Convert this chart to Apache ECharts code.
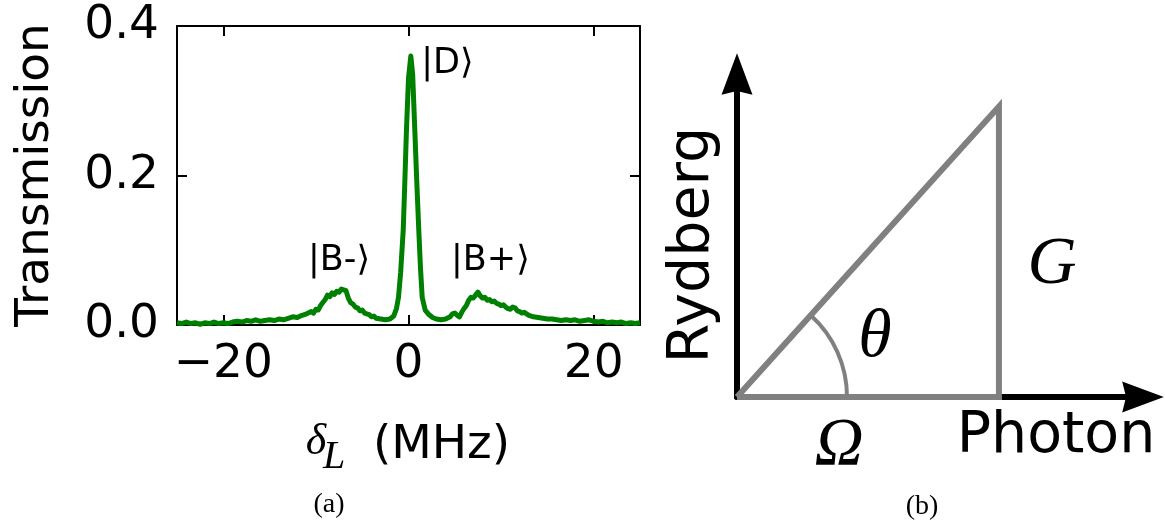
<!DOCTYPE html>
<html><head><meta charset="utf-8">
<script src="https://cdn.jsdelivr.net/npm/echarts@6/dist/echarts.min.js"></script>
<style>html,body{margin:0;padding:0;background:#fff}#c{width:1165px;height:523px}</style>
</head><body><div id="c"></div>
<script>
// ---- Panel (a) data ----
const detuning = [
 -25,-24.5,-24,-23.5,-23,-22.5,-22,-21.5,-21,-20.5,-20,-19.5,-19,-18.5,-18,-17.5,-17,-16.5,-16,-15.5,
 -15,-14.5,-14,-13.5,-13,-12.5,-12,-11.5,-11,-10.5,-10.25,-10,-9.75,-9.5,-9.25,-9,-8.75,-8.5,-8.25,-8,
 -7.75,-7.5,-7.25,-7,-6.75,-6.5,-6.25,-6,-5.75,-5.5,-5.25,-5,-4.75,-4.5,-4.25,-4,-3.75,-3.5,-3,-2.5,
 -2,-1.6,-1.3,-1.08,-0.85,-0.57,-0.4,-0.22,0,0.25,0.45,0.68,0.9,1.11,1.3,1.48,1.8,2.2,2.6,3,
 3.5,4,4.5,4.75,5,5.25,5.5,5.75,6,6.25,6.5,6.75,7,7.25,7.5,7.75,8,8.25,8.5,8.75,
 9,9.25,9.5,9.75,10,10.25,10.5,10.75,11,11.25,11.5,11.75,12,12.25,12.5,13,13.5,14,14.5,15,
 15.5,16,16.5,17,17.5,18,18.5,19,19.5,20,20.5,21,21.5,22,22.5,23,23.5,24,24.5,25
];
const transmission = [
 0.003,0.002,0.004,0.002,0.003,0.001,0.003,0.002,0.004,0.002,0.003,0.002,0.004,0.005,0.004,0.006,0.005,0.007,0.005,0.006,
 0.007,0.006,0.008,0.007,0.009,0.011,0.010,0.013,0.015,0.018,0.016,0.021,0.020,0.026,0.030,0.034,0.040,0.038,0.043,0.041,
 0.045,0.044,0.048,0.047,0.046,0.036,0.030,0.028,0.024,0.023,0.019,0.020,0.016,0.015,0.014,0.011,0.012,0.009,0.008,0.007,
 0.008,0.012,0.022,0.037,0.070,0.127,0.190,0.261,0.330,0.360,0.335,0.261,0.190,0.127,0.075,0.037,0.020,0.014,0.010,0.008,
 0.007,0.008,0.011,0.015,0.016,0.013,0.011,0.017,0.022,0.026,0.033,0.037,0.036,0.040,0.044,0.039,0.036,0.037,0.033,0.034,
 0.031,0.032,0.029,0.028,0.026,0.027,0.024,0.022,0.021,0.024,0.023,0.019,0.018,0.016,0.017,0.013,0.011,0.010,0.009,0.008,
 0.008,0.007,0.006,0.007,0.006,0.007,0.005,0.006,0.007,0.005,0.004,0.005,0.003,0.004,0.003,0.004,0.002,0.003,0.002,0.003
];
const xTicks = [-20, 0, 20];
const yTicks = [0, 0.2, 0.4];
const stateLabels = ['|D\u27E9', '|B-\u27E9', '|B+\u27E9'];
const stateX = [4.2, -7.5, 8.85];
const stateY = [0.349, 0.086, 0.086];

// ---- Panel (b) data ----
const photonOmega = 1.0;     // horizontal leg (Ω)
const rydbergG = 1.115;      // vertical leg (G)
const angleArcRadius = 0.42; // radius of θ arc, in Ω units

const chart = echarts.init(document.getElementById('c'), null, {renderer: 'canvas'});
const black = '#000';
const gray = '#808080';
const sans = 'DejaVu Sans';
const serif = 'Liberation Serif';

const curve = detuning.map((x, i) => [x, transmission[i]]);
const tri = [[0, 0], [photonOmega, rydbergG], [photonOmega, 0], [0, 0]];

function txt(text, x, y, size, opts) {
  opts = opts || {};
  return {
    type: 'text', x: x, y: y, rotation: opts.rot || 0, z: 10,
    style: {
      text: text, fontSize: size, fontFamily: opts.family || sans,
      fontStyle: opts.italic ? 'italic' : 'normal', fill: black,
      align: 'center', verticalAlign: 'middle'
    }
  };
}

const option = {
  animation: false,
  backgroundColor: '#fff',
  grid: [
    {left: 177, top: 26, width: 463, height: 299},
    {left: 737, top: 74, width: 406, height: 323}
  ],
  xAxis: [
    {gridIndex: 0, type: 'value', min: -25, max: 25, position: 'bottom',
     axisLine: {show: true, onZero: false, lineStyle: {color: black, width: 2}},
     axisTick: {show: true, inside: true, length: 10, customValues: xTicks, lineStyle: {color: black, width: 2}},
     axisLabel: {show: true, customValues: xTicks, margin: 16, color: black, fontSize: 47, fontFamily: sans,
                 formatter: v => v < 0 ? '\u2212' + (-v) : String(v)},
     splitLine: {show: false}},
    {gridIndex: 0, type: 'value', min: -25, max: 25, position: 'top',
     axisLine: {show: true, onZero: false, lineStyle: {color: black, width: 2}},
     axisTick: {show: true, inside: true, length: 10, customValues: xTicks, lineStyle: {color: black, width: 2}},
     axisLabel: {show: false}, splitLine: {show: false}},
    {gridIndex: 1, type: 'value', min: 0, max: 1.55,
     axisLine: {show: true, onZero: false, symbol: ['none', 'path://M0,0 L16,43 L0,39 L-16,43 Z'], symbolSize: [31, 42],
                lineStyle: {color: black, width: 6}},
     axisTick: {show: false}, axisLabel: {show: false}, splitLine: {show: false}}
  ],
  yAxis: [
    {gridIndex: 0, type: 'value', min: 0, max: 0.4, interval: 0.2, position: 'left',
     axisLine: {show: true, onZero: false, lineStyle: {color: black, width: 2}},
     axisTick: {show: true, inside: true, length: 10, lineStyle: {color: black, width: 2}},
     axisLabel: {show: true, margin: 18, color: black, fontSize: 47, fontFamily: sans, formatter: v => v.toFixed(1)},
     splitLine: {show: false}},
    {gridIndex: 0, type: 'value', min: 0, max: 0.4, interval: 0.2, position: 'right',
     axisLine: {show: true, onZero: false, lineStyle: {color: black, width: 2}},
     axisTick: {show: true, inside: true, length: 10, lineStyle: {color: black, width: 2}},
     axisLabel: {show: false}, splitLine: {show: false}},
    {gridIndex: 1, type: 'value', min: 0, max: 1.24,
     axisLine: {show: true, onZero: false, symbol: ['none', 'path://M0,0 L16,43 L0,39 L-16,43 Z'], symbolSize: [31, 42],
                lineStyle: {color: black, width: 6}},
     axisTick: {show: false}, axisLabel: {show: false}, splitLine: {show: false}}
  ],
  series: [
    {type: 'line', xAxisIndex: 0, yAxisIndex: 0, data: curve, showSymbol: false, symbol: 'none',
     clip: false, z: 3, lineStyle: {color: '#008000', width: 5, join: 'round'}},
    {type: 'scatter', xAxisIndex: 0, yAxisIndex: 0, symbolSize: 0, z: 4, silent: true,
     itemStyle: {color: '#000', opacity: 1},
     data: stateX.map((x, i) => [x, stateY[i]]),
     label: {show: true, position: [0, 0], align: 'center', verticalAlign: 'middle', opacity: 1,
             color: '#000', textBorderWidth: 0, fontSize: 35, fontFamily: sans,
             formatter: p => stateLabels[p.dataIndex]}},
    {type: 'line', xAxisIndex: 2, yAxisIndex: 2, data: tri, showSymbol: false, symbol: 'none',
     clip: false, z: 3, lineStyle: {color: gray, width: 6, join: 'miter', cap: 'butt'}},
    {type: 'custom', xAxisIndex: 2, yAxisIndex: 2, data: [[0, 0]], clip: false, z: 3,
     renderItem: (params, api) => {
       const o = api.coord([0, 0]);
       const r = api.coord([angleArcRadius * photonOmega, 0])[0] - o[0];
       const v = api.coord([photonOmega, rydbergG]);
       const ang = Math.atan2(o[1] - v[1], v[0] - o[0]);
       return {type: 'arc', shape: {cx: o[0], cy: o[1], r: r, startAngle: -ang, endAngle: 0, clockwise: true},
               style: {stroke: gray, lineWidth: 4, fill: null}};
     }}
  ],
  graphic: [
    txt('Transmission', 36, 175, 47, {rot: Math.PI / 2}),
    txt('\u03B4', 316, 442, 44, {family: serif, italic: true}),
    txt('L', 334, 457, 40, {family: serif, italic: true}),
    txt('(MHz)', 441.5, 446, 47),
    txt('(a)', 329, 505, 28, {family: serif}),
    txt('Rydberg', 693, 245, 57, {rot: Math.PI / 2}),
    txt('Photon', 1056, 437, 57),
    txt('\u03A9', 839, 446, 68, {family: serif, italic: true}),
    txt('\u03B8', 875, 338, 68, {family: serif, italic: true}),
    txt('G', 1052, 265, 68, {family: serif, italic: true}),
    txt('(b)', 922, 507, 28, {family: serif})
  ]
};
chart.setOption(option);
</script>
</body></html>
